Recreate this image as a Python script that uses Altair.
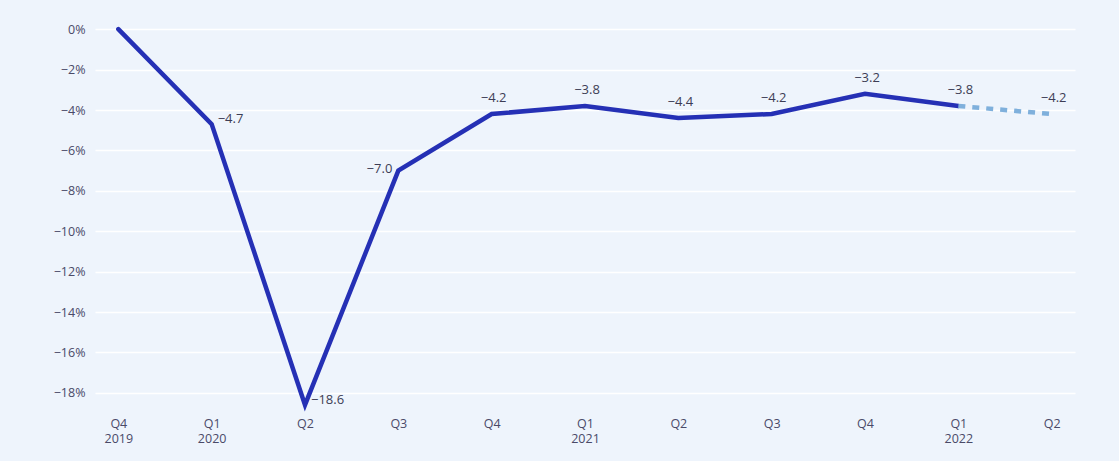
import altair as alt
import pandas as pd

periods = ["Q4 2019", "Q1 2020", "Q2 2020", "Q3 2020", "Q4 2020", "Q1 2021",
           "Q2 2021", "Q3 2021", "Q4 2021", "Q1 2022", "Q2 2022"]
values = [0.0, -4.7, -18.6, -7.0, -4.2, -3.8, -4.4, -4.2, -3.2, -3.8, -4.2]
n_actual = 10  # Q4 2019 .. Q1 2022 are actual, last one is a forecast

y_ticks = [0, -2, -4, -6, -8, -10, -12, -14, -16, -18]

df = pd.DataFrame({"period": periods, "value": values, "idx": list(range(len(periods)))})

FONT = "Open Sans"
LABEL_COLOR = "#4a4a68"

x_enc = alt.X(
    "period:O", sort=None,
    scale=alt.Scale(type="point", padding=0.25),
    axis=alt.Axis(
        title=None, labelAngle=0, domain=False, ticks=False, grid=False,
        labelPadding=4, labelFont=FONT, labelFontSize=12.5, labelColor=LABEL_COLOR,
        labelLineHeight=15,
        labelExpr="(indexof(datum.label,'Q1')==0 || datum.label=='Q4 2019') ? split(datum.label,' ') : slice(datum.label,0,2)",
    ),
)
y_enc = alt.Y(
    "value:Q",
    scale=alt.Scale(domain=[-19, 1], nice=False, zero=False),
    axis=alt.Axis(
        title=None, values=y_ticks, domain=False, ticks=False,
        grid=True, gridColor="#ffffff", gridWidth=1.5,
        labelFont=FONT, labelFontSize=12.5, labelColor=LABEL_COLOR, labelPadding=10,
        labelExpr="format(datum.value, 'd') + '%'",
    ),
)

base = alt.Chart(df)

actual = base.transform_filter(f"datum.idx < {n_actual}").mark_line(
    color="#2530b5", strokeWidth=4.5, strokeCap="round", strokeJoin="miter"
).encode(x=x_enc, y=y_enc)

forecast = base.transform_filter(f"datum.idx >= {n_actual - 1}").mark_line(
    color="#7fb0dc", strokeWidth=4.5, strokeDash=[7, 7]
).encode(x=x_enc, y=y_enc)

text_common = dict(font=FONT, fontSize=13, color="#3d3d55")

lbl_above = base.transform_filter("datum.idx >= 4").mark_text(
    dy=-16, dx=2, **text_common
).encode(x=x_enc, y=y_enc, text=alt.Text("value:Q", format=".1f"))

lbl_right = base.transform_filter("datum.idx == 1 || datum.idx == 2").mark_text(
    align="left", dx=6, dy=-5, **text_common
).encode(x=x_enc, y=y_enc, text=alt.Text("value:Q", format=".1f"))

lbl_left = base.transform_filter("datum.idx == 3").mark_text(
    align="right", dx=-6, dy=-2, **text_common
).encode(x=x_enc, y=y_enc, text=alt.Text("value:Q", format=".1f"))

chart = alt.layer(actual, forecast, lbl_above, lbl_right, lbl_left).properties(
    width=980, height=404,
    autosize=alt.AutoSizeParams(type="none"),
    padding={"left": 95, "top": 9, "right": 44, "bottom": 48},
    background="#eef4fc",
).configure_view(stroke=None, fill="#eef4fc")

chart.save("out.html", embed_options={"renderer": "svg", "actions": False})
